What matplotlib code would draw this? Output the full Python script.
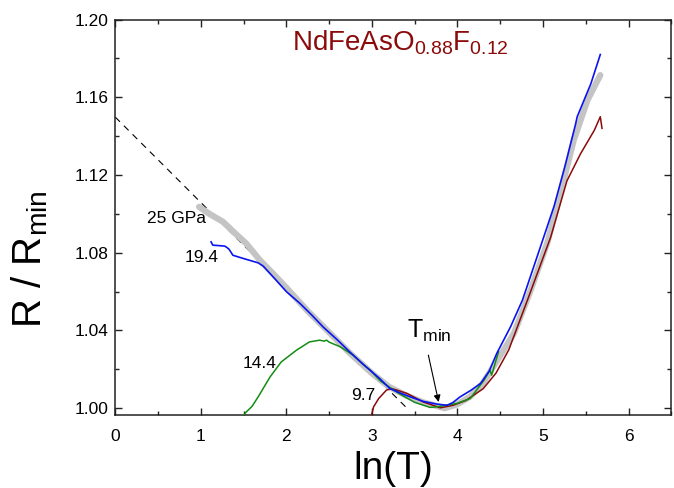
import matplotlib
matplotlib.use("Agg")
import matplotlib.pyplot as plt
from matplotlib.ticker import MultipleLocator

plt.rcParams['font.family'] = ['Liberation Sans', 'DejaVu Sans']
plt.rcParams['mathtext.fontset'] = 'custom'
plt.rcParams['mathtext.rm'] = 'Liberation Sans'
plt.rcParams['mathtext.it'] = 'Liberation Sans'
plt.rcParams['mathtext.bf'] = 'Liberation Sans'

# 25 GPa (gray thick)
x_25 = [0.98, 1.10, 1.26, 1.40, 1.53, 1.69, 1.85, 2.00, 2.25, 2.50, 2.75, 3.00, 3.20, 3.40, 3.60, 3.85,
        4.00, 4.15, 4.30, 4.50, 4.66, 4.85, 5.05, 5.20, 5.36, 5.52, 5.67]
y_25 = [1.1036, 1.1000, 1.0959, 1.0900, 1.0848, 1.0762, 1.0690, 1.0620, 1.0500, 1.0390, 1.0280, 1.0180,
        1.0110, 1.0065, 1.0030, 1.0000, 1.0020, 1.0060, 1.0130, 1.0270, 1.0385, 1.0600, 1.0850, 1.1100,
        1.1380, 1.1585, 1.1714]

# 19.4 GPa (blue)
x_194 = [1.12, 1.14, 1.20, 1.28, 1.305, 1.33, 1.375, 1.50, 1.67, 1.73, 1.88, 2.00, 2.16, 2.30, 2.43,
         2.60, 2.74, 2.90, 3.09, 3.21, 3.33, 3.45, 3.60, 3.76, 3.88, 3.95, 4.03, 4.15, 4.27, 4.37, 4.46,
         4.62, 4.76, 4.97, 5.13, 5.26, 5.38, 5.40, 5.56, 5.67]
y_194 = [1.0856, 1.0839, 1.0837, 1.0834, 1.0827, 1.0818, 1.0787, 1.0770, 1.0748, 1.0731, 1.0659, 1.0600,
         1.0539, 1.0478, 1.0418, 1.0350, 1.0290, 1.0225, 1.0153, 1.0101, 1.0078, 1.0058, 1.0035, 1.0021,
         1.0015, 1.0030, 1.0058, 1.0090, 1.0127, 1.0190, 1.0282, 1.0418, 1.0556, 1.0830, 1.1040, 1.1250,
         1.1460, 1.1500, 1.1670, 1.1820]

# 14.4 GPa (green)
x_144 = [1.485, 1.53, 1.60, 1.67, 1.81, 1.94, 2.12, 2.27, 2.39, 2.44, 2.47, 2.50, 2.63, 2.78, 2.90, 2.98,
         3.10, 3.30, 3.50, 3.68, 3.76, 3.99, 4.15, 4.31, 4.38, 4.40, 4.48]
y_144 = [0.9955, 0.9980, 1.0010, 1.0058, 1.0161, 1.0238, 1.0299, 1.0341, 1.0350, 1.0345, 1.0350, 1.0340,
         1.0316, 1.0273, 1.0225, 1.0196, 1.0140, 1.0080, 1.0030, 1.0004, 1.0007, 1.0024, 1.0050, 1.0144,
         1.0196, 1.0170, 1.0290]

# 9.7 GPa (dark red)
x_97 = [2.99, 3.02, 3.08, 3.17, 3.23, 3.30, 3.41, 3.60, 3.80, 3.95, 4.10, 4.30, 4.45, 4.60, 4.83, 5.09,
        5.28, 5.44, 5.60, 5.67, 5.69]
y_97 = [0.9955, 1.0007, 1.0050, 1.0093, 1.0101, 1.0092, 1.0076, 1.0032, 1.0002, 1.0015, 1.0040, 1.0100,
        1.0180, 1.0300, 1.0570, 1.0880, 1.1170, 1.1310, 1.1430, 1.1500, 1.1440]

# dashed ln(T) fit
x_fit = [0.0, 3.41]
y_fit = [1.1498, 1.0000]

fig = plt.figure(figsize=(6.74, 4.88), dpi=100)
ax = fig.add_axes([0.171, 0.150, 0.825, 0.810])

ax.plot(x_fit, y_fit, color='black', lw=0.8, ls=(0, (6, 5)), zorder=1)
ax.plot(x_25, y_25, color='#c4c4c4', lw=4.5, solid_capstyle='round', zorder=2)
ax.plot(x_97, y_97, color='#8b0a0a', lw=1.1, zorder=3)
ax.plot(x_144, y_144, color='#148c14', lw=1.1, zorder=4)
ax.plot(x_194, y_194, color='#0a14f0', lw=1.2, zorder=5)

ax.set_xlim(0, 6.5)
ax.set_ylim(0.9966, 1.20)
ax.xaxis.set_major_locator(MultipleLocator(1))
ax.xaxis.set_minor_locator(MultipleLocator(0.5))
ax.yaxis.set_major_locator(MultipleLocator(0.04))
ax.yaxis.set_minor_locator(MultipleLocator(0.02))
ax.yaxis.set_major_formatter(matplotlib.ticker.FormatStrFormatter('%.2f'))
ax.tick_params(which='both', direction='in', top=True, right=True, labelsize=12.5, width=1.0, color='#222222')
ax.tick_params(which='major', length=5)
ax.tick_params(which='minor', length=3)
ax.tick_params(axis='x', pad=10)
ax.tick_params(axis='y', pad=5)
for s in ax.spines.values():
    s.set_linewidth(1.1)
    s.set_color('#222222')

ax.set_xlabel('ln(T)', fontsize=28)
ax.xaxis.set_label_coords(0.5, -0.092)
ax.set_ylabel(r'R / R$_{\mathrm{min}}$', fontsize=29)
ax.yaxis.set_label_coords(-0.118, 0.395)

ax.text(3.33, 1.1955, r'NdFeAsO$_{\mathrm{0.88}}$F$_{\mathrm{0.12}}$', color='#8b0a0a', fontsize=20,
        ha='center', va='top')
ax.text(0.375, 1.0978, '25 GPa', fontsize=12.5, ha='left', va='center')
ax.text(0.81, 1.0777, '19.4', fontsize=12.5, ha='left', va='center')
ax.text(1.485, 1.0232, '14.4', fontsize=12.5, ha='left', va='center')
ax.text(2.76, 1.0067, '9.7', fontsize=12.5, ha='left', va='center')
ax.text(3.41, 1.0463, r'T$_{\mathrm{min}}$', fontsize=18, ha='left', va='top')
ax.annotate('', xy=(3.78, 1.0032), xytext=(3.66, 1.0273),
            arrowprops=dict(arrowstyle='-|>', color='black', lw=0.8, mutation_scale=10,
                            shrinkA=0, shrinkB=0))

fig.savefig('out.png', dpi=100)
